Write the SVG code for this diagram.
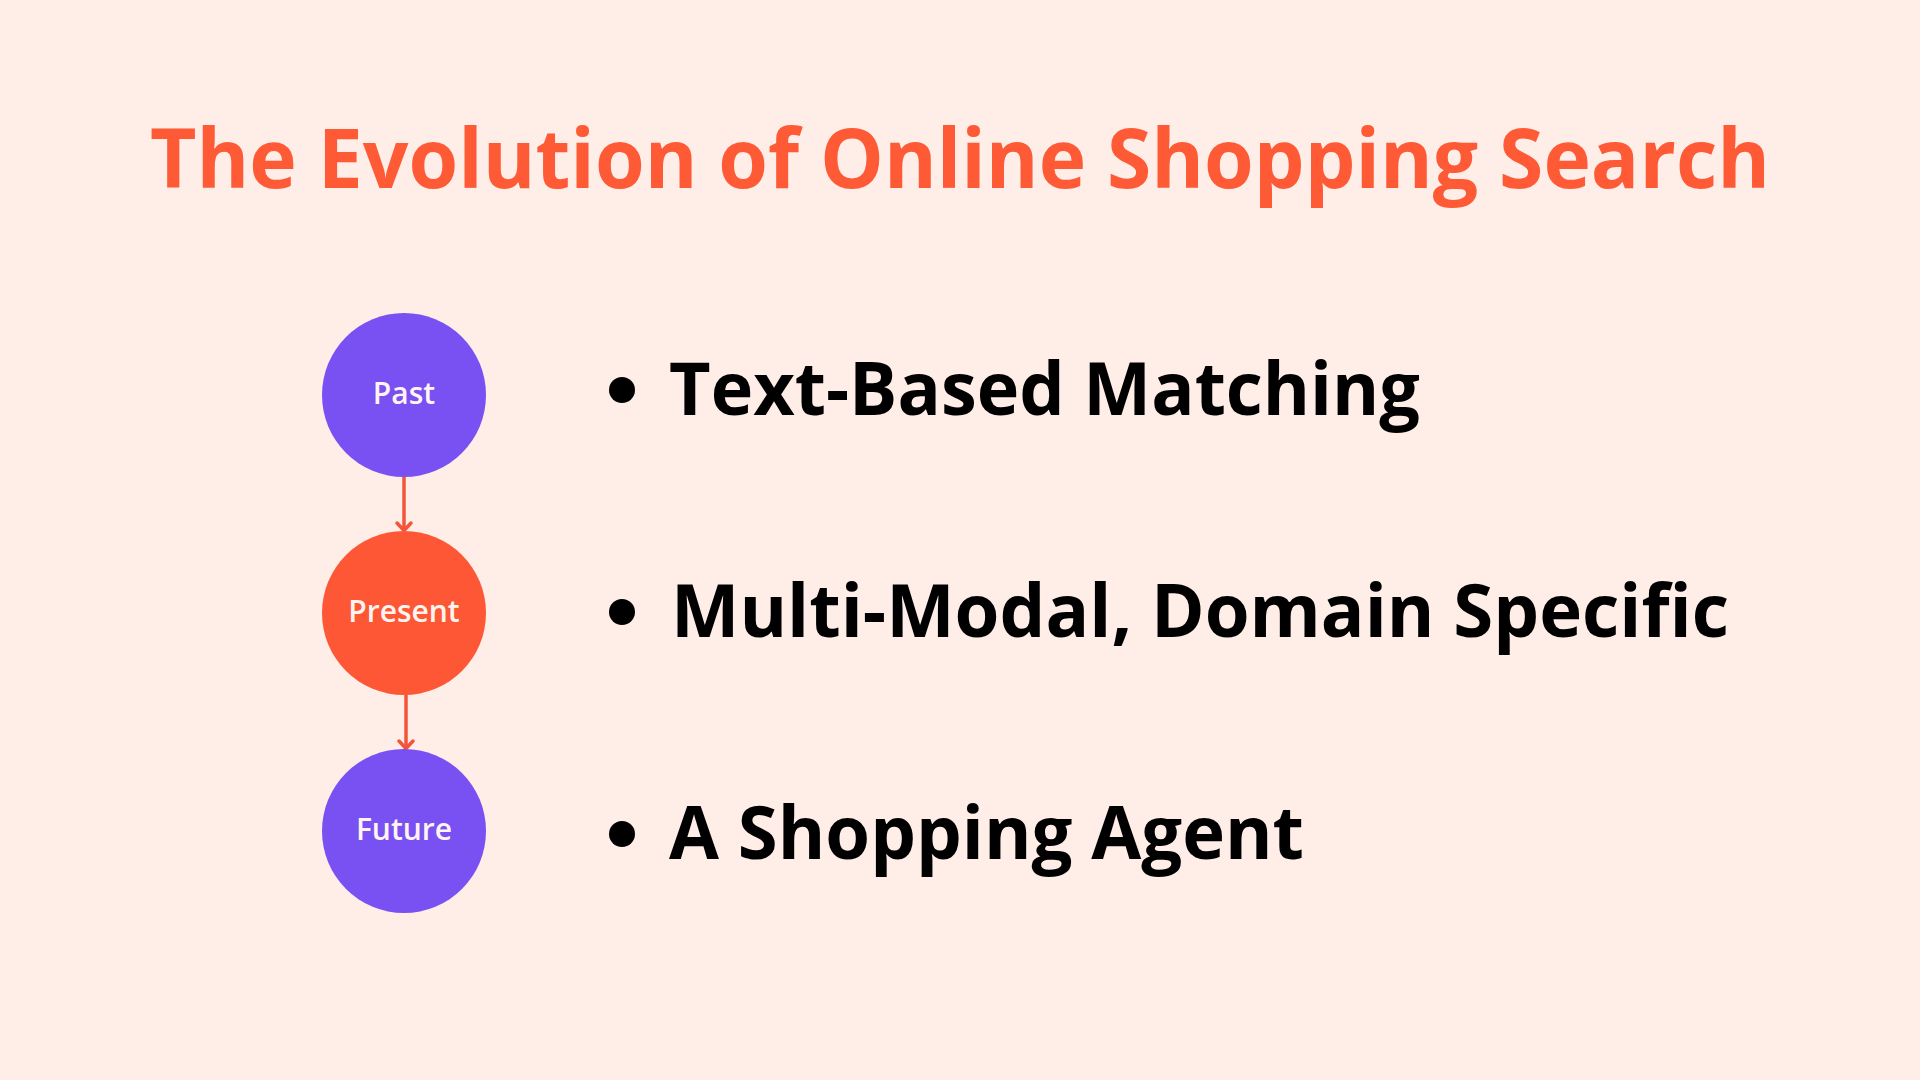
<svg xmlns="http://www.w3.org/2000/svg" width="1920" height="1080" viewBox="0 0 1920 1080">
<defs>
<style>
.title{font-family:"Open Sans","Noto Sans","Liberation Sans",sans-serif;font-weight:700;font-size:83px;fill:#FE5A36}
.node-label{font-family:"Open Sans","Noto Sans","Liberation Sans",sans-serif;font-weight:600;font-size:30px;fill:#FFF4EF;text-anchor:middle}
.item{font-family:"Open Sans","Noto Sans","Liberation Sans",sans-serif;font-weight:700;font-size:74px;fill:#000}
.purple{fill:#7950F2}
.orange{fill:#FE5735}
.conn{stroke:#F2553A;stroke-width:3.5;fill:none}
</style>
<marker id="arrow" viewBox="0 0 20 20" refX="17" refY="10" markerWidth="20" markerHeight="20" markerUnits="userSpaceOnUse" orient="auto">
<path d="M9,3 L16.5,10 L9,17" fill="none" stroke="#F2553A" stroke-width="3.5" stroke-linecap="round" stroke-linejoin="round"/>
</marker>
</defs>
<rect width="1920" height="1080" fill="#FFEDE8"/>
<text class="title" x="150" y="188" textLength="1620" lengthAdjust="spacingAndGlyphs">The Evolution of Online Shopping Search</text>
<g id="connectors">
<path class="conn" d="M404,476 V531" marker-end="url(#arrow)"/>
<path class="conn" d="M406,694 V749" marker-end="url(#arrow)"/>
</g>
<g id="node-past">
<circle class="purple" cx="404" cy="395" r="82"/>
<text class="node-label" x="404" y="404">Past</text>
</g>
<g id="node-present">
<circle class="orange" cx="404" cy="613" r="82"/>
<text class="node-label" x="404" y="622">Present</text>
</g>
<g id="node-future">
<circle class="purple" cx="404" cy="831" r="82"/>
<text class="node-label" x="404" y="840">Future</text>
</g>
<g id="item-1">
<circle cx="622" cy="390" r="13" fill="#000"/>
<text class="item" x="669" y="415" textLength="751" lengthAdjust="spacingAndGlyphs">Text-Based Matching</text>
</g>
<g id="item-2">
<circle cx="622" cy="612" r="13" fill="#000"/>
<text class="item" x="671" y="637" textLength="1058" lengthAdjust="spacingAndGlyphs">Multi-Modal, Domain Specific</text>
</g>
<g id="item-3">
<circle cx="622" cy="834" r="13" fill="#000"/>
<text class="item" x="669" y="859" textLength="635" lengthAdjust="spacingAndGlyphs">A Shopping Agent</text>
</g>
</svg>
